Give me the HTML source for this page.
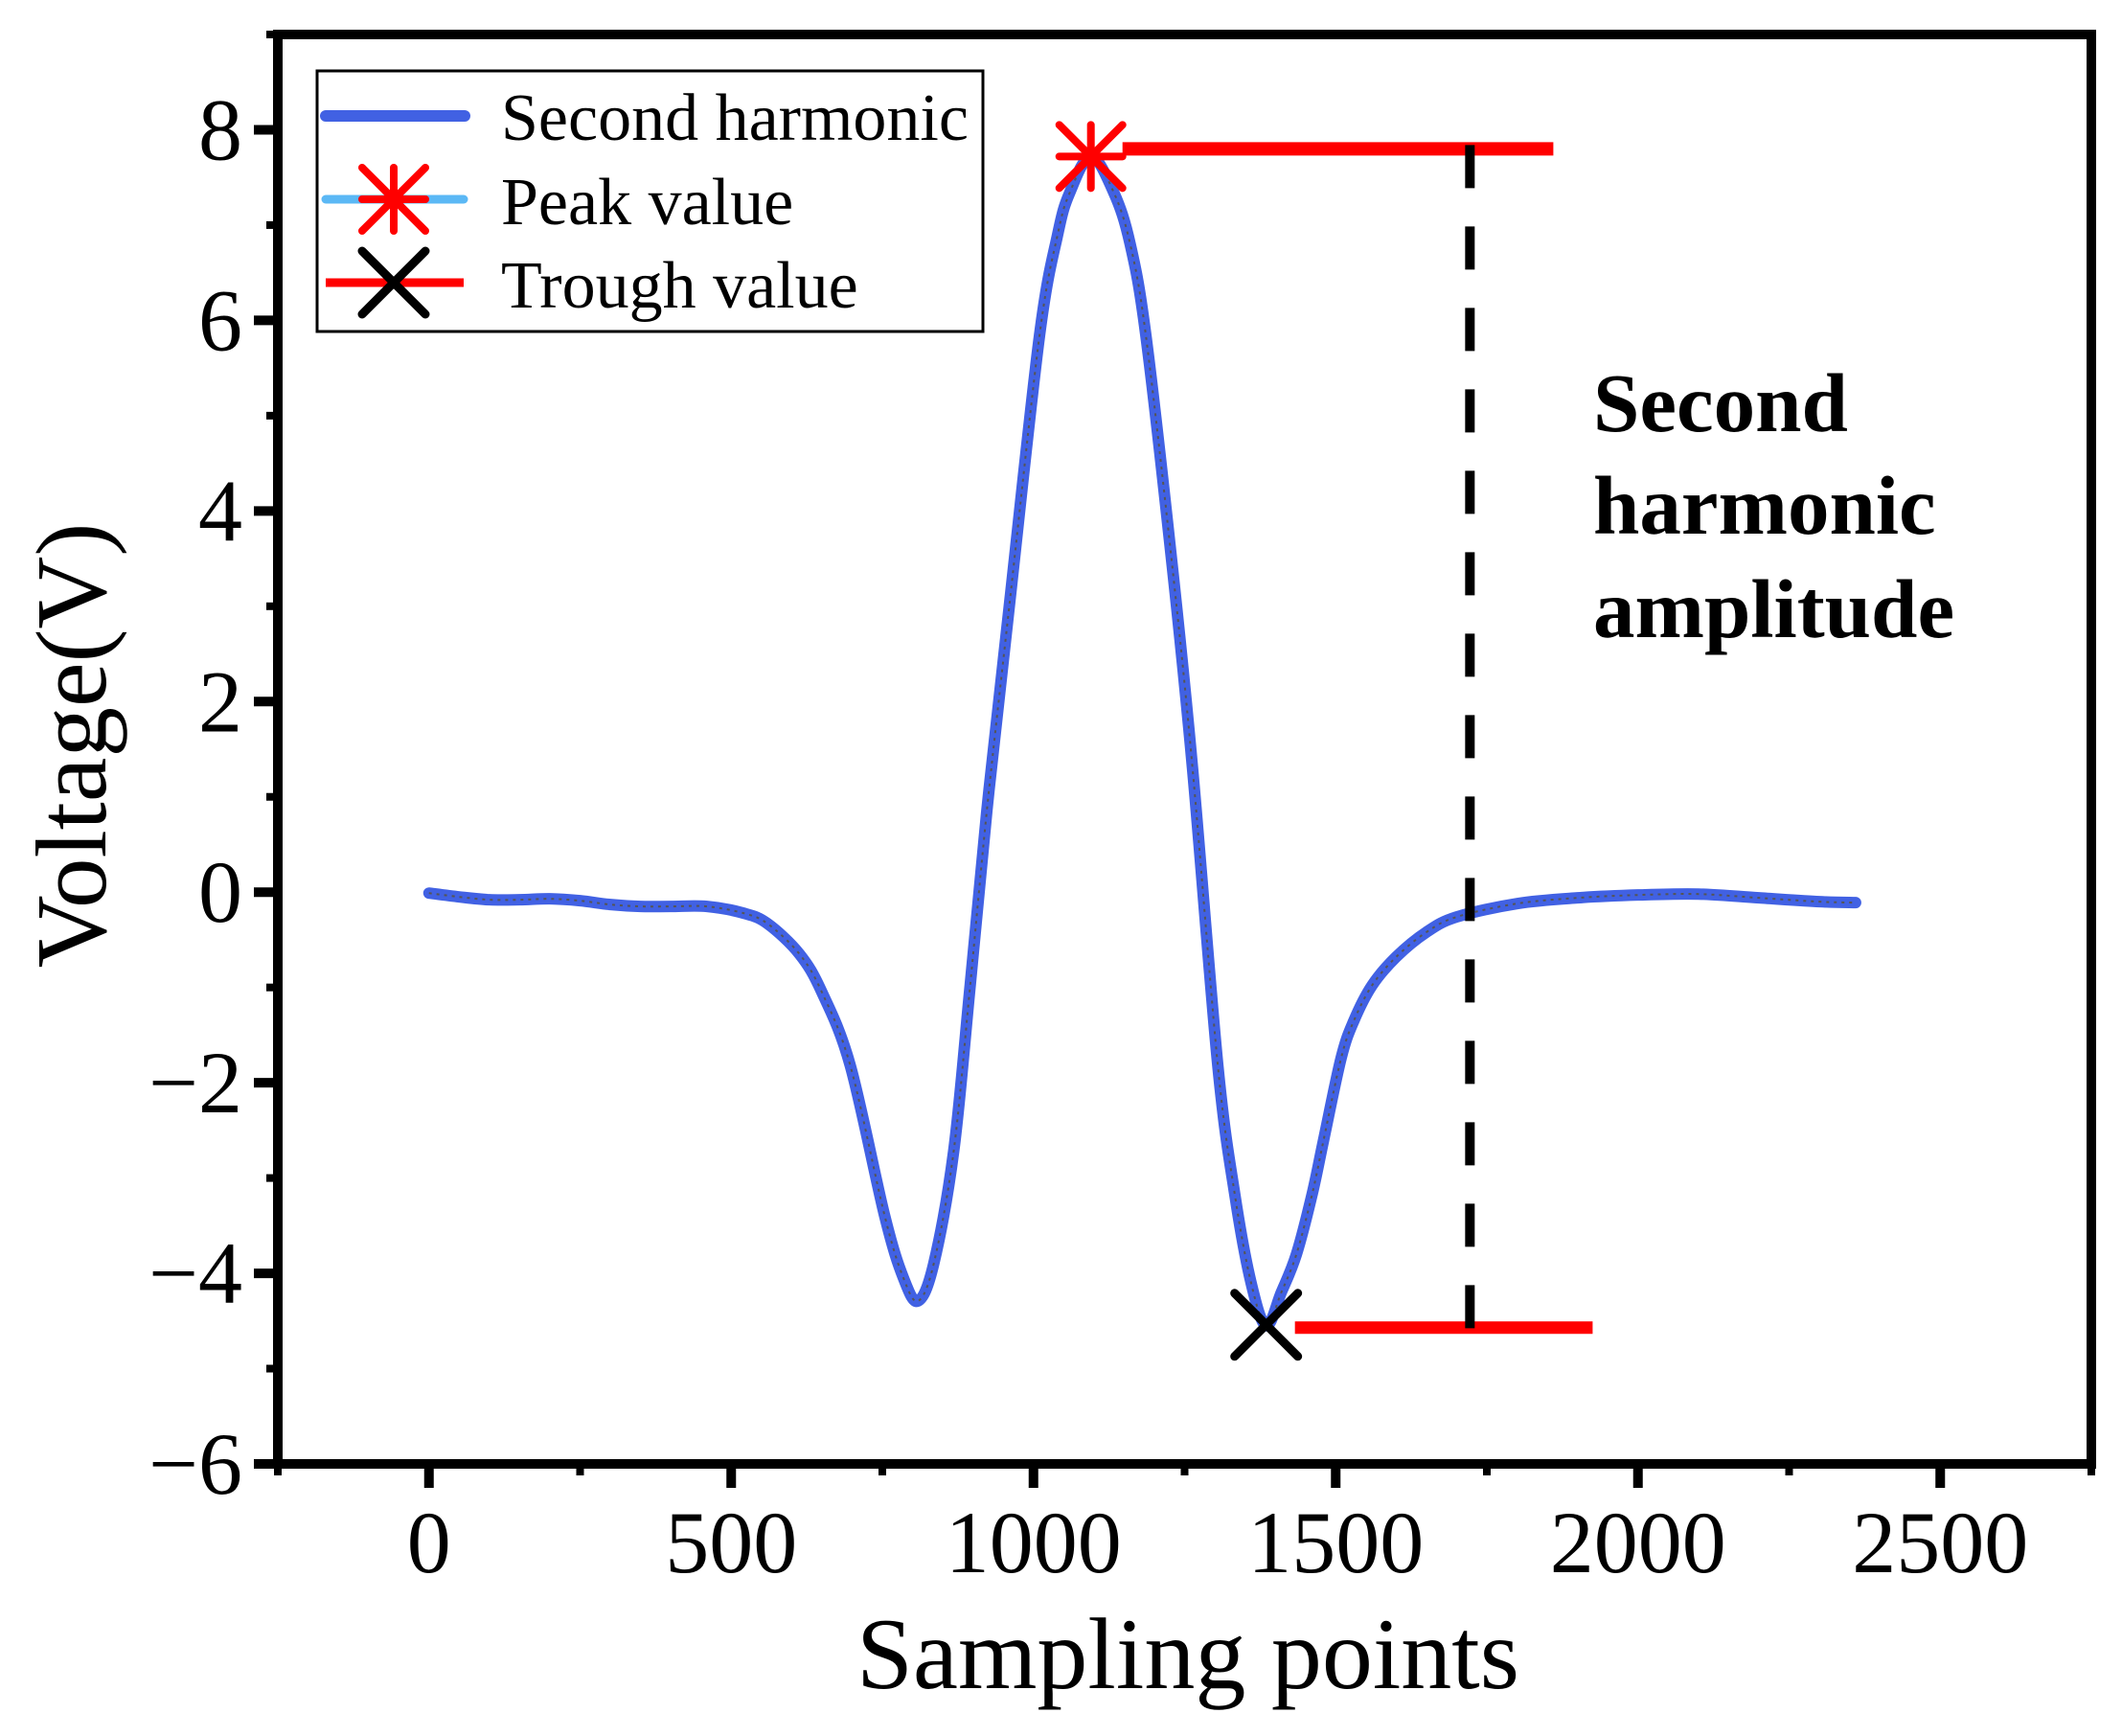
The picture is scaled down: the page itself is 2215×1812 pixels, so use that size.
<!DOCTYPE html>
<html><head><meta charset="utf-8"><style>
html,body{margin:0;padding:0;background:#fff;}
svg{display:block;font-family:"Liberation Serif","Times New Roman",serif;}
</style></head><body>
<svg id="chart" width="2215" height="1812" viewBox="0 0 2215 1812" xmlns="http://www.w3.org/2000/svg">
<rect width="2215" height="1812" fill="#fff"/>
<g id="plot"></g>
</svg>
<script>
const xs = [0,50,100,150,200,250,300,350,400,460,520,560,613,650,697,754,785,809,835,868,895,923,960,1010,1040,1060,1095,1133,1160,1186,1230,1263,1305,1333,1360,1385,1410,1435,1461,1480,1509,1530,1560,1600,1650,1700,1800,1900,2000,2100,2200,2300,2360];
const ys = [-0.01,-0.05,-0.08,-0.08,-0.07,-0.09,-0.13,-0.15,-0.15,-0.15,-0.22,-0.33,-0.65,-1.05,-1.82,-3.4,-4.05,-4.29,-3.9,-2.72,-1.0,0.86,3.0,5.84,6.9,7.34,7.72,7.34,6.8,5.84,3.4,1.31,-1.82,-3.17,-4.1,-4.55,-4.2,-3.8,-3.17,-2.6,-1.74,-1.35,-0.98,-0.68,-0.42,-0.26,-0.12,-0.06,-0.03,-0.02,-0.06,-0.1,-0.11];
const peakPoint = [1095, 7.72];
const troughPoint = [1385, -4.54];
const peakLineEnd = 1860;
const troughLineEnd = 1925;
const amplitudeX = 1722;
const xTicks = [0,500,1000,1500,2000,2500];
const xTickLabels = ["0","500","1000","1500","2000","2500"];
const yTicks = [-6,-4,-2,0,2,4,6,8];
const yTickLabels = ["\u22126","\u22124","\u22122","0","2","4","6","8"];

const L=290,R=2183,T=36,B=1528;
const X0=-250,X1=2750,Y0=-6,Y1=9;
const sx=v=>L+(v-X0)/(X1-X0)*(R-L);
const sy=v=>B-(v-Y0)/(Y1-Y0)*(B-T);
const NS="http://www.w3.org/2000/svg";
const g=document.getElementById('plot');
function mk(tag,attrs,parent){const e=document.createElementNS(NS,tag);for(const k in attrs)e.setAttribute(k,attrs[k]);(parent||g).appendChild(e);return e;}

let pts=xs.map((x,i)=>[sx(x),sy(ys[i])]);
let d="M"+pts[0][0]+","+pts[0][1];
for(let i=0;i<pts.length-1;i++){
 const p0=pts[Math.max(0,i-1)],p1=pts[i],p2=pts[i+1],p3=pts[Math.min(pts.length-1,i+2)];
 const c1=[p1[0]+(p2[0]-p0[0])/6,p1[1]+(p2[1]-p0[1])/6];
 const c2=[p2[0]-(p3[0]-p1[0])/6,p2[1]-(p3[1]-p1[1])/6];
 d+=` C${c1[0]},${c1[1]} ${c2[0]},${c2[1]} ${p2[0]},${p2[1]}`;
}
const curve=mk('path',{d:d,fill:'none',stroke:'#4161E3','stroke-width':12,'stroke-linejoin':'round','stroke-linecap':'round'});


const curve2=mk('path',{d:d,fill:'none',stroke:'#555','stroke-width':2,'stroke-dasharray':'3 5'});



const pl=mk('line',{x1:sx(peakPoint[0])+33,y1:sy(peakPoint[1])-8,x2:sx(peakLineEnd),y2:sy(peakPoint[1])-8,stroke:'#f00','stroke-width':14});


const tl=mk('line',{x1:sx(troughPoint[0])+30,y1:sy(troughPoint[1])+3,x2:sx(troughLineEnd),y2:sy(troughPoint[1])+3,stroke:'#f00','stroke-width':13});


const al=mk('line',{x1:sx(amplitudeX),y1:sy(peakPoint[1])-12,x2:sx(amplitudeX),y2:sy(troughPoint[1])+10,stroke:'#000','stroke-width':10,'stroke-dasharray':'45 40'});



function star(cx,cy,r,name){
 const s=mk('g',{stroke:'#f00','stroke-width':8,'stroke-linecap':'round'});
 
 
 mk('line',{x1:cx,y1:cy-r,x2:cx,y2:cy+r},s);
 mk('line',{x1:cx-r,y1:cy,x2:cx+r,y2:cy},s);
 mk('line',{x1:cx-r,y1:cy-r,x2:cx+r,y2:cy+r},s);
 mk('line',{x1:cx-r,y1:cy+r,x2:cx+r,y2:cy-r},s);
}
function cross(cx,cy,r,name){
 const s=mk('g',{stroke:'#000','stroke-width':9,'stroke-linecap':'round'});
 
 
 mk('line',{x1:cx-r,y1:cy-r,x2:cx+r,y2:cy+r},s);
 mk('line',{x1:cx-r,y1:cy+r,x2:cx+r,y2:cy-r},s);
}
star(sx(peakPoint[0]),sy(peakPoint[1]),33,'peak-marker');
cross(sx(troughPoint[0]),sy(troughPoint[1]),33,'trough-marker');

const fr=mk('rect',{x:L,y:T,width:R-L,height:B-T,fill:'none',stroke:'#000','stroke-width':10});



xTicks.forEach((v,i)=>{
 const t=mk('line',{x1:sx(v),y1:B,x2:sx(v),y2:B+25,stroke:'#000','stroke-width':10});
 
 
 const tx=mk('text',{x:sx(v),y:1641,'font-size':92,'text-anchor':'middle',fill:'#000'});
 tx.textContent=xTickLabels[i];
 
 
});
for(let v=-250;v<=2750;v+=500){
 const t=mk('line',{x1:sx(v),y1:B,x2:sx(v),y2:B+12,stroke:'#000','stroke-width':8});
 
 
}
yTicks.forEach((v,i)=>{
 const t=mk('line',{x1:L,y1:sy(v),x2:L-25,y2:sy(v),stroke:'#000','stroke-width':10});
 
 
 const tx=mk('text',{x:253,y:sy(v)+31,'font-size':92,'text-anchor':'end',fill:'#000'});
 tx.textContent=yTickLabels[i];
 
 
});
for(let v=-5;v<=9;v+=2){
 const t=mk('line',{x1:L,y1:sy(v),x2:L-12,y2:sy(v),stroke:'#000','stroke-width':8});
 
 
}

const xt=mk('text',{x:1240,y:1762,'font-size':106,'text-anchor':'middle',fill:'#000'});
xt.textContent='Sampling points';


const yt=mk('text',{x:0,y:0,'font-size':105,'text-anchor':'middle',fill:'#000',transform:'translate(110,778) rotate(-90)'});
yt.textContent='Voltage(V)';



const ann=mk('text',{x:1663,y:450,'font-size':87,'font-weight':'bold',fill:'#000'});


[['Second',450],['harmonic',557],['amplitude',665]].forEach(([s,y])=>{
 const ts=mk('tspan',{x:1663,y:y},ann);ts.textContent=s;
});

const lg=mk('g',{});


mk('rect',{x:331,y:74,width:695,height:272,fill:'#fff',stroke:'#000','stroke-width':3},lg);
mk('line',{x1:340,y1:121,x2:485,y2:121,stroke:'#4161E3','stroke-width':12,'stroke-linecap':'round'},lg);
mk('line',{x1:340,y1:208,x2:484,y2:208,stroke:'#5BB8F5','stroke-width':9,'stroke-linecap':'round'},lg);
mk('line',{x1:340,y1:295,x2:484,y2:295,stroke:'#f00','stroke-width':9},lg);
star(411,208,33,'legend-peak-marker');
cross(411,295,33,'legend-trough-marker');
[['Second harmonic',146],['Peak value',234],['Trough value',321]].forEach(([s,y])=>{
 const t=mk('text',{x:523,y:y,'font-size':70,fill:'#000'},lg);
 t.textContent=s;
 
 
});
</script>
</body></html>
